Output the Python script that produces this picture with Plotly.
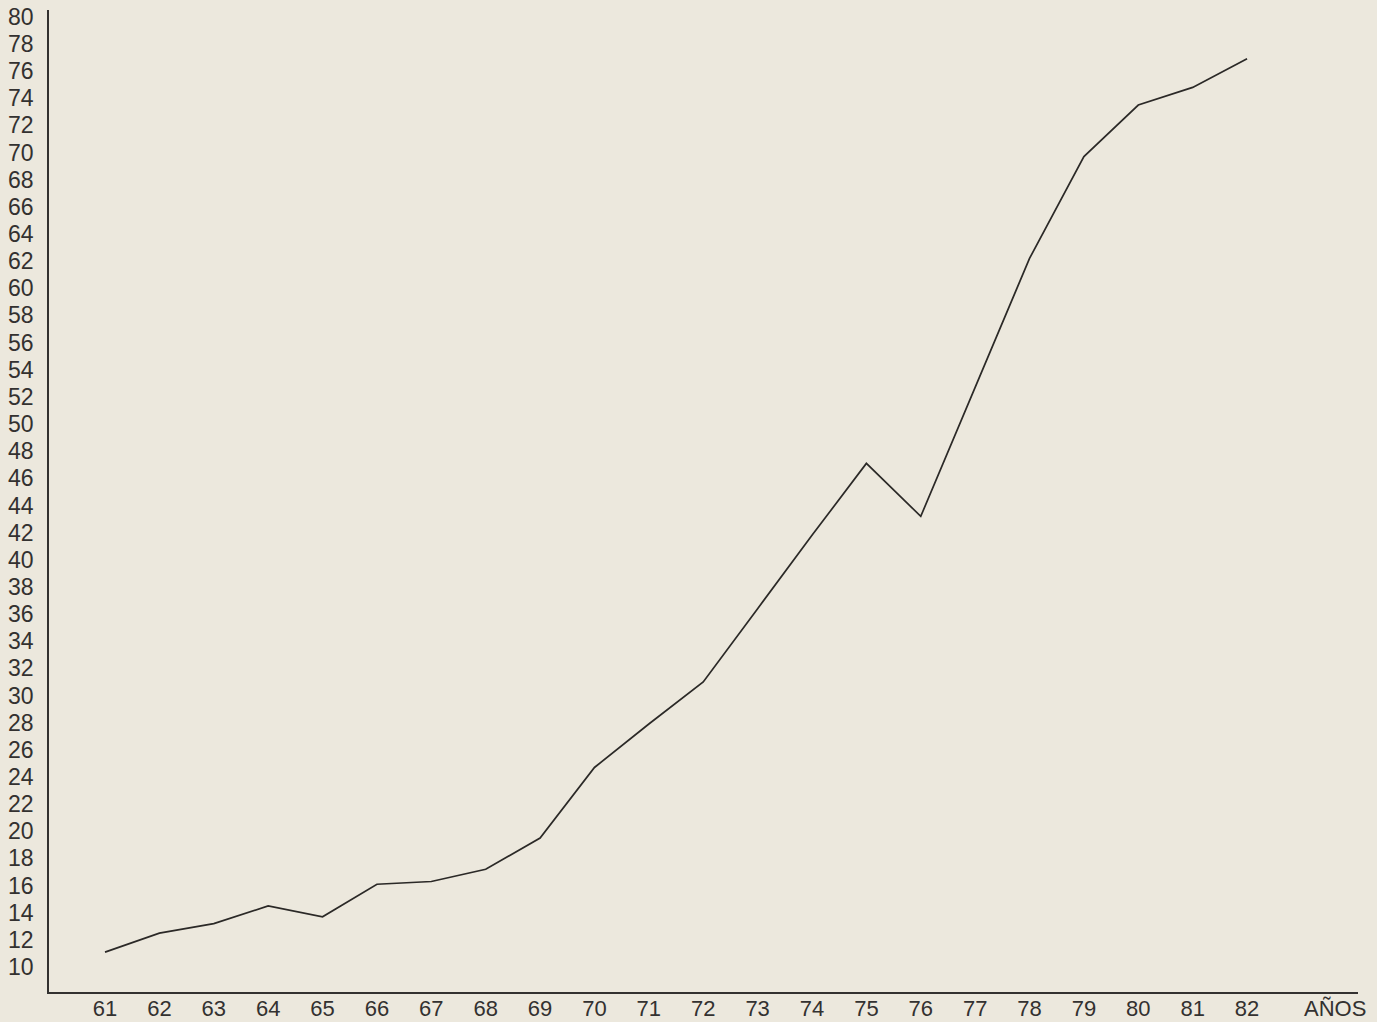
import plotly.graph_objects as go

# Data
years = [61, 62, 63, 64, 65, 66, 67, 68, 69, 70, 71, 72, 73, 74, 75, 76, 77, 78, 79, 80, 81, 82]
values = [11.1, 12.5, 13.2, 14.5, 13.7, 16.1, 16.3, 17.2, 19.5, 24.7, 27.9, 31.0,
          36.4, 41.8, 47.1, 43.2, 52.7, 62.2, 69.7, 73.5, 74.8, 76.9]

x_tick_vals = years + [83.62]
x_tick_text = [str(y) for y in years] + ["AÑOS"]
y_tick_vals = list(range(10, 81, 2))
y_tick_text = [str(v) for v in y_tick_vals]

INK = "#333130"
PAPER = "#ece8dd"
FONT = "Liberation Sans, Arial, sans-serif"

fig = go.Figure()
fig.add_trace(go.Scatter(
    x=years, y=values, mode="lines",
    line=dict(color="#2b2927", width=1.7),
    hoverinfo="x+y", showlegend=False,
))

fig.update_layout(
    width=1377, height=1022, autosize=False,
    margin=dict(l=49, r=19, t=10, b=30, autoexpand=False),
    paper_bgcolor=PAPER, plot_bgcolor=PAPER,
    font=dict(family=FONT, size=22, color=INK),
    xaxis=dict(
        range=[59.97, 84.04], tickmode="array",
        tickvals=x_tick_vals, ticktext=x_tick_text,
        showgrid=False, zeroline=False, ticks="", automargin=False,
        showline=True, linecolor=INK, linewidth=1.6,
        tickfont=dict(family=FONT, size=22, color=INK),
        ticklabelstandoff=-4,
    ),
    yaxis=dict(
        range=[8.16, 80.5], tickmode="array",
        tickvals=y_tick_vals, ticktext=y_tick_text,
        showgrid=False, zeroline=False, ticks="", automargin=False,
        showline=True, linecolor=INK, linewidth=1.6,
        tickfont=dict(family=FONT, size=23, color=INK),
        ticklabelstandoff=9,
    ),
)

fig.write_html(
    "out.html",
    config={"displayModeBar": False, "responsive": False},
    post_script="document.body.style.margin='0';document.body.style.background='%s';" % PAPER,
)
